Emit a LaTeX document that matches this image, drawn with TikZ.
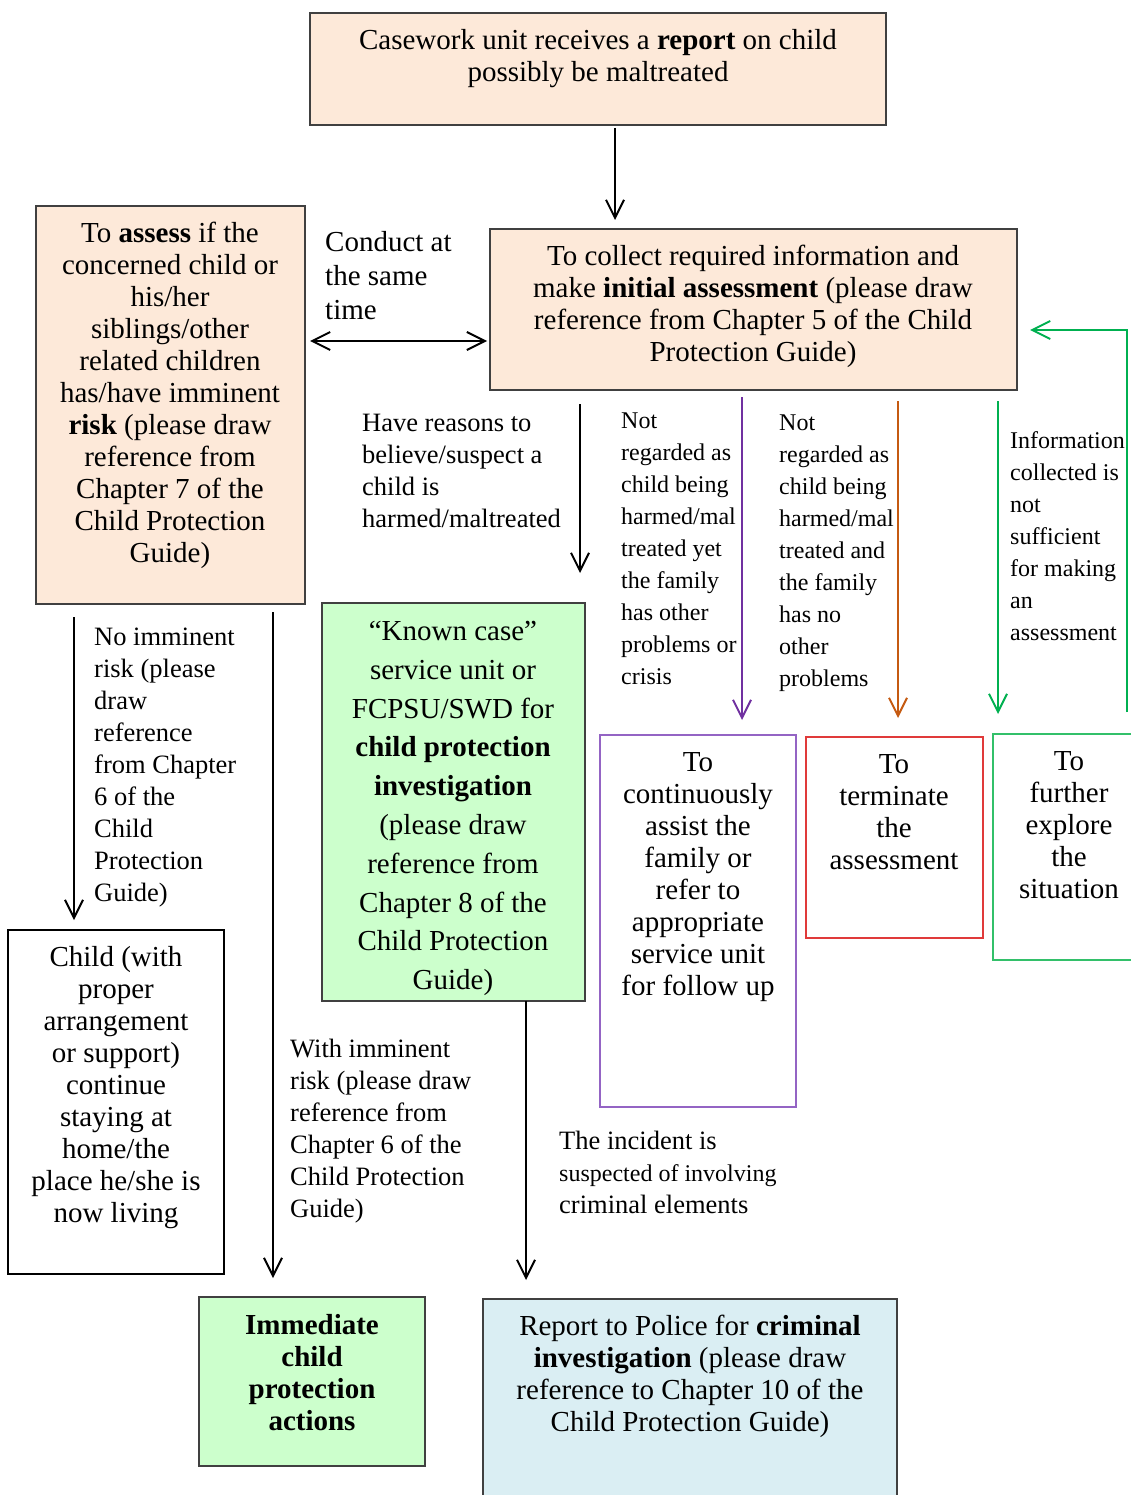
\documentclass[tikz,border=0pt]{standalone}
\usepackage{fontspec}
\setmainfont{Liberation Serif}
\usetikzlibrary{arrows.meta}
\definecolor{peach}{HTML}{FDE9D9}
\definecolor{lgreen}{HTML}{CCFFCC}
\definecolor{lblue}{HTML}{DAEEF3}
\definecolor{boxgray}{HTML}{404040}
\definecolor{purpline}{HTML}{7030A0}
\definecolor{purpbox}{HTML}{9464C4}
\definecolor{redbox}{HTML}{E03A3A}
\definecolor{orangeline}{HTML}{C55A11}
\definecolor{greenline}{HTML}{00B050}
\definecolor{greenbox}{HTML}{33C06A}
\newcommand\fbig{\fontsize{29}{32}\selectfont}
\newcommand\fmid{\fontsize{26.5}{32}\selectfont}
\newcommand\fsml{\fontsize{24}{32}\selectfont}
\begin{document}
\begin{tikzpicture}[x=1pt,y=-1pt,
  box/.style={draw=boxgray, line width=1.4pt, anchor=north west, inner sep=0pt, outer sep=0pt},
  txt/.style={inner sep=0pt, anchor=north, align=center, font=\fbig},
  ltxt/.style={inner sep=0pt, anchor=north west, align=left, font=\fmid},
  tip/.style={-{Straight Barb[length=18pt,width=18pt,line width=2pt]}},
  arr/.style={line width=2pt, tip},
  dblarr/.style={line width=2pt, {Straight Barb[length=18pt,width=18pt,line width=2pt]}-{Straight Barb[length=18pt,width=18pt,line width=2pt]}}
]
\clip (0,0) rectangle (1131,1495);
\useasboundingbox (0,0) rectangle (1131,1495);

% boxes
\node[box, fill=peach, minimum width=576pt, minimum height=112pt] (b1) at (310,13) {};
\node[box, fill=peach, minimum width=527pt, minimum height=161pt] (b2) at (490,229) {};
\node[box, fill=peach, minimum width=269pt, minimum height=398pt] (b3) at (36,206) {};
\node[box, fill=lgreen, minimum width=263pt, minimum height=398pt] (kc) at (322,603) {};
\node[box, draw=purpbox, minimum width=196pt, minimum height=372pt] (pb) at (600,735) {};
\node[box, draw=redbox, minimum width=177pt, minimum height=201pt] (rb) at (806,737) {};
\node[box, draw=greenbox, minimum width=160pt, minimum height=226pt] (gb) at (993,734) {};
\node[box, draw=black, line width=1.2pt, minimum width=216pt, minimum height=344pt] (cb) at (8,930) {};
\node[box, fill=lgreen, minimum width=226pt, minimum height=169pt] (ib) at (199,1297) {};
\node[box, fill=lblue, minimum width=414pt, minimum height=220pt] (rp) at (483,1299) {};

% texts in boxes
\node[txt] (t1) at (598,29) {Casework unit receives a \textbf{report} on child\\possibly be maltreated};
\node[txt] (t2) at (753,245) {To collect required information and\\make \textbf{initial assessment} (please draw\\reference from Chapter 5 of the Child\\Protection Guide)};
\node[txt] (t3) at (170,222) {To \textbf{assess} if the\\concerned child or\\his/her\\siblings/other\\related children\\has/have imminent\\\textbf{risk} (please draw\\reference from\\Chapter 7 of the\\Child Protection\\Guide)};
\node[txt, font=\fontsize{29}{38.8}\selectfont] (tkc) at (453,621) {“Known case”\\service unit or\\FCPSU/SWD for\\\textbf{child protection}\\\textbf{investigation}\\(please draw\\reference from\\Chapter 8 of the\\Child Protection\\Guide)};
\node[txt] (tpb) at (698,752) {To\\continuously\\assist the\\family or\\refer to\\appropriate\\service unit\\for follow up};
\node[txt] (trb) at (894,754) {To\\terminate\\the\\assessment};
\node[txt] (tgb) at (1069,751) {To\\further\\explore\\the\\situation};
\node[txt] (tcb) at (116,946) {Child (with\\proper\\arrangement\\or support)\\continue\\staying at\\home/the\\place he/she is\\now living};
\node[txt, font=\fbig\bfseries] (tib) at (312,1314) {Immediate\\child\\protection\\actions};
\node[txt] (trp) at (690,1315) {Report to Police for \textbf{criminal}\\\textbf{investigation} (please draw\\reference to Chapter 10 of the\\Child Protection Guide)};

% free labels
\node[ltxt, font=\fontsize{29}{34}\selectfont] (tcon) at (325,231) {Conduct at\\the same\\time};
\node[ltxt] (thave) at (362,414) {Have reasons to\\believe/suspect a\\child is\\harmed/maltreated};
\node[ltxt, font=\fsml] (tnot1) at (621,413) {Not\\regarded as\\child being\\harmed/mal\\treated yet\\the family\\has other\\problems or\\crisis};
\node[ltxt, font=\fsml] (tnot2) at (779,415) {Not\\regarded as\\child being\\harmed/mal\\treated and\\the family\\has no\\other\\problems};
\node[ltxt, font=\fsml] (tinfo) at (1010,431) {Information\\collected is\\not\\sufficient\\for making\\an\\assessment};
\node[ltxt] (tno) at (94,628) {No imminent\\risk (please\\draw\\reference\\from Chapter\\6 of the\\Child\\Protection\\Guide)};
\node[ltxt] (twith) at (290,1039) {With imminent\\risk (please draw\\reference from\\Chapter 6 of the\\Child Protection\\Guide)};
\node[ltxt] (tinc) at (559,1131) {The incident is\\{\fsml suspected of involving}\\criminal elements};

% connector end points
\coordinate (a1s) at (615,128);  \coordinate (a1e) at (615,220);
\coordinate (dl) at (310,341);   \coordinate (dr) at (487,341);
\coordinate (hs) at (580,404);   \coordinate (he) at (580,573);
\coordinate (ps) at (742,397);   \coordinate (pe) at (742,720);
\coordinate (os) at (898,401);   \coordinate (oe) at (898,718);
\coordinate (gs) at (998,401);   \coordinate (ge) at (998,714);
\coordinate (fs) at (1127,712);  \coordinate (fc) at (1127,330); \coordinate (fe) at (1030,330);
\coordinate (ns) at (74,617);    \coordinate (ne) at (74,920);
\coordinate (ws) at (273,612);   \coordinate (we) at (273,1278);
\coordinate (ks) at (526,1001);  \coordinate (ke) at (526,1280);

% connectors
\draw[arr] (a1s) -- (a1e);
\draw[dblarr] (dl) -- (dr);
\draw[arr] (hs) -- (he);
\draw[arr, draw=purpline] (ps) -- (pe);
\draw[arr, draw=orangeline] (os) -- (oe);
\draw[arr, draw=greenline] (gs) -- (ge);
\draw[arr, draw=greenline] (fs) -- (fc) -- (fe);
\draw[arr] (ns) -- (ne);
\draw[arr] (ws) -- (we);
\draw[arr] (ks) -- (ke);
\end{tikzpicture}
\end{document}
